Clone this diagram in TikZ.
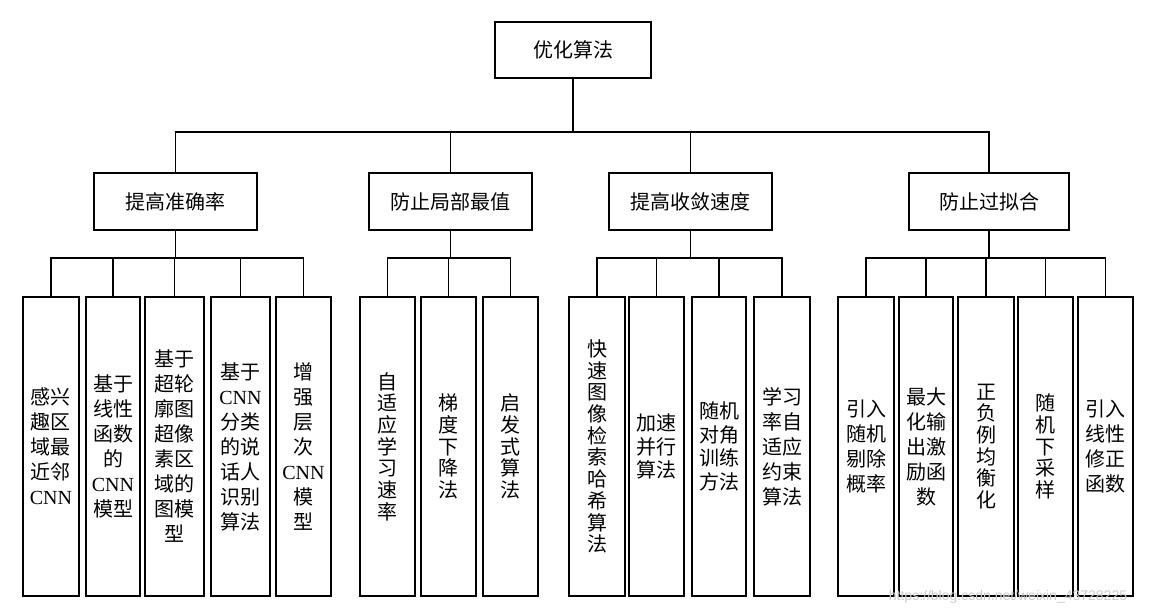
\documentclass[tikz,border=0pt]{standalone}
\usepackage{fontspec}
\setmainfont{Liberation Serif}
\setsansfont{Liberation Sans}
\newfontfamily\cjk{Noto Sans CJK SC}
\newcommand\cnn{{\rmfamily CNN}}
\begin{document}
\begin{tikzpicture}[x=1pt,y=-1pt,
  box/.style={draw, line width=1.3pt, inner sep=0pt, align=center, font=\cjk\fontsize{20}{25}\selectfont},
  leaf/.style={box, minimum height=299pt},
  tightl/.style={font=\cjk\fontsize{20}{21.7}\selectfont},
  midl/.style={font=\cjk\fontsize{20}{23.5}\selectfont},
  conn/.style={line width=1.2pt}]
\useasboundingbox (0,0) rectangle (1153,615);
\fill[white] (0,0) rectangle (1153,615);
% root
\node[box, minimum width=156pt, minimum height=56pt] (root) at (573,50) {优化算法};
% level 2
\node[box, minimum width=163pt, minimum height=57pt] (g1) at (175.5,201.5) {提高准确率};
\node[box, minimum width=163pt, minimum height=57pt] (g2) at (450.5,201.5) {防止局部最值};
\node[box, minimum width=163pt, minimum height=57pt] (g3) at (690.5,201.5) {提高收敛速度};
\node[box, minimum width=160pt, minimum height=57pt] (g4) at (989,201.5) {防止过拟合};
% group 1 leaves
\node[leaf, minimum width=56pt] (a1) at (51,446.5) {感兴\\趣区\\域最\\近邻\\\cnn};
\node[leaf, minimum width=54pt] (a2) at (113,446.5) {基于\\线性\\函数\\的\\\cnn\\模型};
\node[leaf, minimum width=59pt] (a3) at (174.5,446.5) {基于\\超轮\\廓图\\超像\\素区\\域的\\图模\\型};
\node[leaf, minimum width=59pt] (a4) at (240.5,446.5) {基于\\\cnn\\分类\\的说\\话人\\识别\\算法};
\node[leaf, minimum width=55pt] (a5) at (303.5,446.5) {增\\强\\层\\次\\\cnn\\模\\型};
% group 2 leaves
\node[leaf, tightl, minimum width=55pt] (b1) at (387.5,446.5) {自\\适\\应\\学\\习\\速\\率};
\node[leaf, tightl, minimum width=55pt] (b2) at (448.5,446.5) {梯\\度\\下\\降\\法};
\node[leaf, tightl, minimum width=55pt] (b3) at (510.5,446.5) {启\\发\\式\\算\\法};
% group 3 leaves
\node[leaf, tightl, minimum width=56pt] (c1) at (597,446.5) {快\\速\\图\\像\\检\\索\\哈\\希\\算\\法};
\node[leaf, midl, minimum width=55pt] (c2) at (656.5,446.5) {加速\\并行\\算法};
\node[leaf, midl, minimum width=54pt] (c3) at (719,446.5) {随机\\对角\\训练\\方法};
\node[leaf, minimum width=56pt] (c4) at (782,446.5) {学习\\率自\\适应\\约束\\算法};
% group 4 leaves
\node[leaf, minimum width=56pt] (d1) at (866,446.5) {引入\\随机\\剔除\\概率};
\node[leaf, minimum width=54pt] (d2) at (926,446.5) {最大\\化输\\出激\\励函\\数};
\node[leaf, tightl, minimum width=56pt] (d3) at (986,446.5) {正\\负\\例\\均\\衡\\化};
\node[leaf, tightl, minimum width=55pt] (d4) at (1045.5,446.5) {随\\机\\下\\采\\样};
\node[leaf, minimum width=55pt] (d5) at (1105.5,446.5) {引入\\线性\\修正\\函数};
% connectors
\coordinate (tb) at (0,132);
\coordinate (lb) at (0,258);
\draw[conn] (root.south) -- (root.south |- tb);
\draw[conn] (g1.north) -- (g1.north |- tb) -- (g4.north |- tb) -- (g4.north);
\draw[conn] (g2.north) -- (g2.north |- tb);
\draw[conn] (g3.north) -- (g3.north |- tb);
\foreach \g/\f/\l in {g1/a1/a5, g2/b1/b3, g3/c1/c4, g4/d1/d5}{
  \draw[conn] (\g.south) -- (\g.south |- lb);
  \draw[conn] (\f.north) -- (\f.north |- lb) -- (\l.north |- lb) -- (\l.north);
}
\foreach \n in {a2,a3,a4,b2,c2,c3,d2,d3,d4}{
  \draw[conn] (\n.north) -- (\n.north |- lb);
}
% watermark
\node[text=gray!40, font=\sffamily\fontsize{14}{14}\selectfont] (wm) at (1008,597) {https://blog.csdn.net/weixin\_43728225};
\end{tikzpicture}
\end{document}
